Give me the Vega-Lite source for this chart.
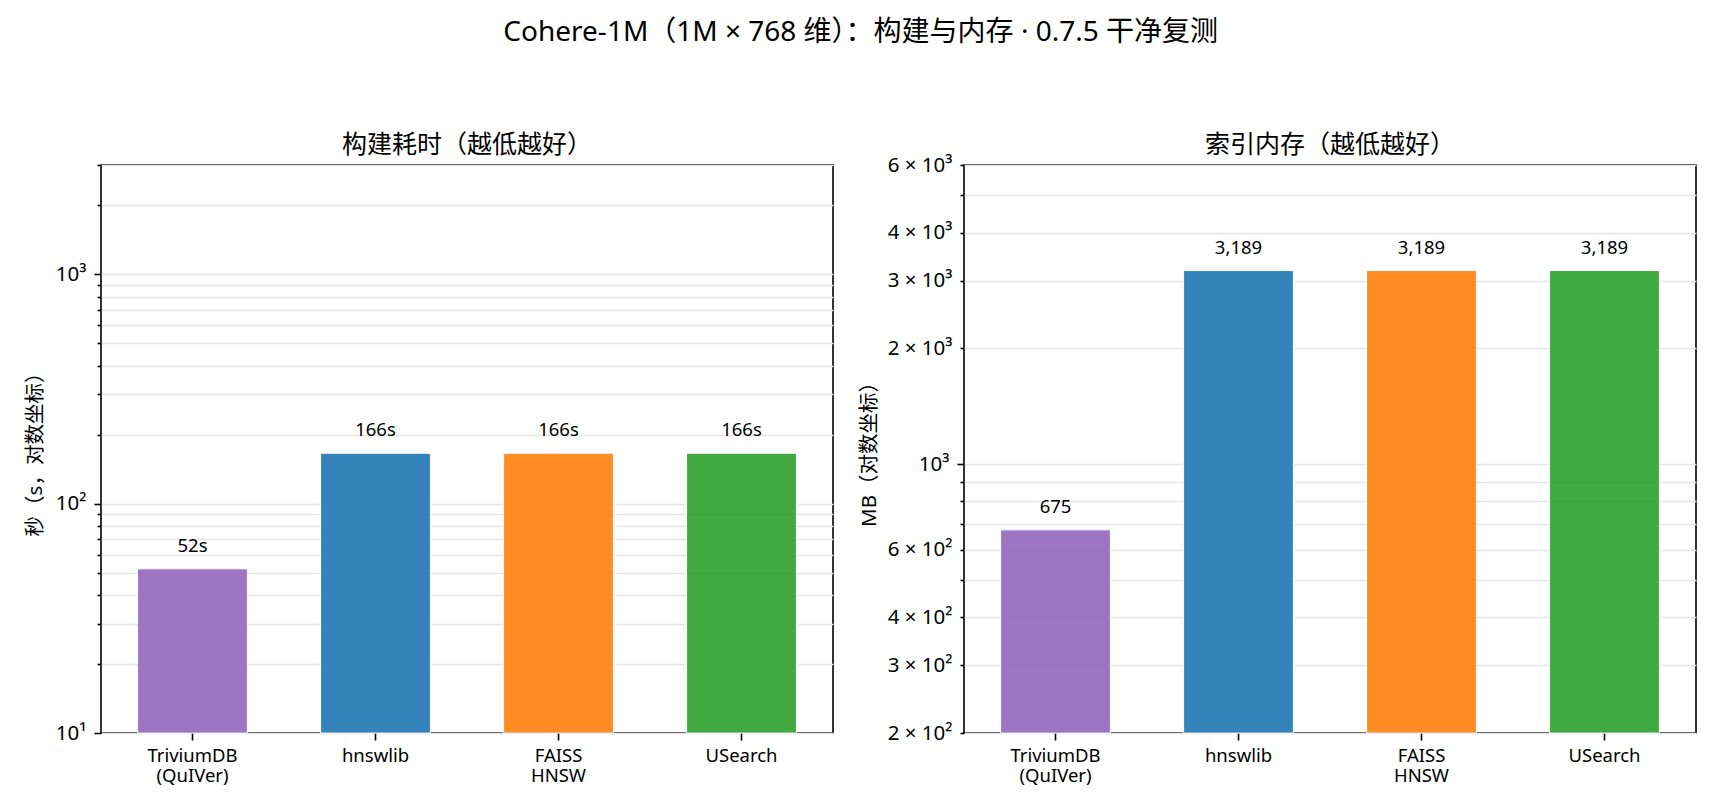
{
  "$schema": "https://vega.github.io/schema/vega-lite/v6.json",
  "description": "Cohere-1M build time and index memory",
  "title": {
    "text": "Cohere-1M（1M × 768 维）：构建与内存 · 0.7.5 干净复测",
    "fontSize": 28,
    "fontWeight": "normal",
    "anchor": "middle",
    "frame": "bounds",
    "offset": 85
  },
  "padding": {"left": 24, "top": 19, "right": 10, "bottom": 5},
  "datasets": {
    "build": [
      {"engine": "TriviumDB\n(QuIVer)", "seconds": 52, "label": "52s"},
      {"engine": "hnswlib", "seconds": 166, "label": "166s"},
      {"engine": "FAISS\nHNSW", "seconds": 166, "label": "166s"},
      {"engine": "USearch", "seconds": 166, "label": "166s"}
    ],
    "mem": [
      {"engine": "TriviumDB\n(QuIVer)", "mb": 675, "label": "675"},
      {"engine": "hnswlib", "mb": 3189, "label": "3,189"},
      {"engine": "FAISS\nHNSW", "mb": 3189, "label": "3,189"},
      {"engine": "USearch", "mb": 3189, "label": "3,189"}
    ]
  },
  "spacing": 24,
  "hconcat": [
    {
      "width": 732,
      "height": 568,
      "title": {"text": "构建耗时（越低越好）", "fontSize": 25, "fontWeight": "normal", "offset": -3},
      "data": {"name": "build"},
      "encoding": {
        "x": {
          "field": "engine",
          "type": "nominal",
          "sort": null,
          "title": null,
          "scale": {"paddingInner": 0.4, "paddingOuter": 0.2},
          "axis": {
            "labelAngle": 0,
            "labelExpr": "split(datum.label, '\\n')",
            "labelFontSize": 18.5,
            "labelLineHeight": 20,
            "labelPadding": 6,
            "tickSize": 7,
            "grid": false,
            "domain": false
          }
        },
        "y": {
          "field": "seconds",
          "type": "quantitative",
          "title": "秒（s，对数坐标）",
          "scale": {"type": "log", "domain": [10, 3000], "nice": false, "zero": false},
          "axis": {
            "values": [10, 20, 30, 40, 50, 60, 70, 80, 90, 100, 200, 300, 400, 500, 600, 700, 800, 900, 1000, 2000, 3000],
            "labelExpr": "datum.value == 10 ? '10¹' : datum.value == 100 ? '10²' : datum.value == 1000 ? '10³' : ''",
            "labelOverlap": false,
            "tickSize": {"condition": {"test": "datum.value == 10 || datum.value == 100 || datum.value == 1000", "value": 7}, "value": 4},
            "labelPadding": 8,
            "titlePadding": 10,
            "domain": false
          }
        }
      },
      "layer": [
        {
          "mark": {"type": "bar", "opacity": 0.9, "stroke": "white", "strokeWidth": 1},
          "encoding": {
            "y2": {"datum": 10},
            "color": {
              "field": "engine",
              "type": "nominal",
              "legend": null,
              "scale": {
                "domain": ["TriviumDB\n(QuIVer)", "hnswlib", "FAISS\nHNSW", "USearch"],
                "range": ["#9467bd", "#1f77b4", "#ff7f0e", "#2ca02c"]
              }
            }
          }
        },
        {
          "mark": {"type": "text", "baseline": "alphabetic", "dy": -17, "fontSize": 18.5},
          "encoding": {"text": {"field": "label"}}
        }
      ]
    },
    {
      "width": 732,
      "height": 568,
      "title": {"text": "索引内存（越低越好）", "fontSize": 25, "fontWeight": "normal", "offset": -3},
      "data": {"name": "mem"},
      "encoding": {
        "x": {
          "field": "engine",
          "type": "nominal",
          "sort": null,
          "title": null,
          "scale": {"paddingInner": 0.4, "paddingOuter": 0.2},
          "axis": {
            "labelAngle": 0,
            "labelExpr": "split(datum.label, '\\n')",
            "labelFontSize": 18.5,
            "labelLineHeight": 20,
            "labelPadding": 6,
            "tickSize": 7,
            "grid": false,
            "domain": false
          }
        },
        "y": {
          "field": "mb",
          "type": "quantitative",
          "title": "MB（对数坐标）",
          "scale": {"type": "log", "domain": [200, 6000], "nice": false, "zero": false},
          "axis": {
            "values": [200, 300, 400, 500, 600, 700, 800, 900, 1000, 2000, 3000, 4000, 5000, 6000],
            "labelExpr": "datum.value == 200 ? '2 × 10²' : datum.value == 300 ? '3 × 10²' : datum.value == 400 ? '4 × 10²' : datum.value == 600 ? '6 × 10²' : datum.value == 1000 ? '10³' : datum.value == 2000 ? '2 × 10³' : datum.value == 3000 ? '3 × 10³' : datum.value == 4000 ? '4 × 10³' : datum.value == 6000 ? '6 × 10³' : ''",
            "labelOverlap": false,
            "tickSize": {"condition": {"test": "datum.value == 1000", "value": 7}, "value": 4},
            "labelPadding": 8,
            "titlePadding": 8,
            "domain": false
          }
        }
      },
      "layer": [
        {
          "mark": {"type": "bar", "opacity": 0.9, "stroke": "white", "strokeWidth": 1},
          "encoding": {
            "y2": {"datum": 200},
            "color": {
              "field": "engine",
              "type": "nominal",
              "legend": null,
              "scale": {
                "domain": ["TriviumDB\n(QuIVer)", "hnswlib", "FAISS\nHNSW", "USearch"],
                "range": ["#9467bd", "#1f77b4", "#ff7f0e", "#2ca02c"]
              }
            }
          }
        },
        {
          "mark": {"type": "text", "baseline": "alphabetic", "dy": -17, "fontSize": 18.5},
          "encoding": {"text": {"field": "label"}}
        }
      ]
    }
  ],
  "resolve": {"scale": {"color": "independent"}},
  "config": {
    "font": "Noto Sans, Noto Sans CJK SC",
    "background": "white",
    "view": {"stroke": "#000000", "strokeWidth": 1.6},
    "title": {"color": "#000000", "font": "Noto Sans, Noto Sans CJK SC"},
    "axis": {
      "labelFont": "Noto Sans, Noto Sans CJK SC",
      "titleFont": "Noto Sans, Noto Sans CJK SC",
      "labelFontSize": 20.5,
      "titleFontSize": 20.5,
      "titleFontWeight": "normal",
      "labelColor": "#000000",
      "titleColor": "#000000",
      "tickColor": "#000000",
      "tickWidth": 1.6,
      "gridColor": "#e6e6e6",
      "gridWidth": 1.3
    },
    "text": {"color": "#000000", "font": "Noto Sans, Noto Sans CJK SC"}
  }
}
